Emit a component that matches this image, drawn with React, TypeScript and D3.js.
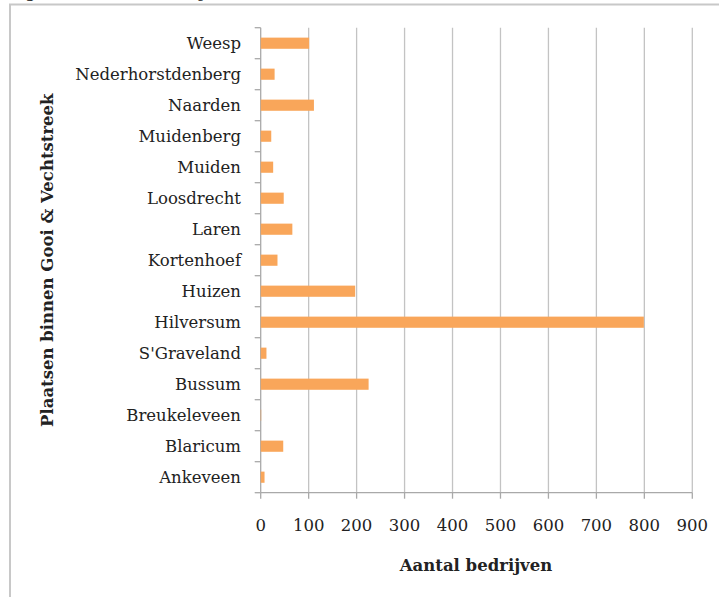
import React from "react";
import * as d3 from "d3";

const categories = [
  "Weesp",
  "Nederhorstdenberg",
  "Naarden",
  "Muidenberg",
  "Muiden",
  "Loosdrecht",
  "Laren",
  "Kortenhoef",
  "Huizen",
  "Hilversum",
  "S'Graveland",
  "Bussum",
  "Breukeleveen",
  "Blaricum",
  "Ankeveen",
];
const values = [101, 29, 111, 22, 26, 48, 66, 35, 197, 799, 12, 225, 1, 47, 8];
const xTicks = [0, 100, 200, 300, 400, 500, 600, 700, 800, 900];
const xTitle = "Aantal bedrijven";
const yTitle = "Plaatsen binnen Gooi & Vechtstreek";
const caption = "Figuur 5: Aantal bedrijven in Gooi & Vechtstreek";

export default function App() {
  const W = 719;
  const H = 597;
  const left = 260.7;
  const right = 692.3;
  const top = 27.7;
  const bottom = 492.7;
  const x = d3.scaleLinear().domain([0, 900]).range([left, right]);
  const y = d3.scaleBand().domain(categories).range([top, bottom]).paddingInner(0.64).paddingOuter(0.32);
  const band = (bottom - top) / categories.length;
  const font = "'DejaVu Serif', serif";
  const grid = "#c3c3c3";
  const axisC = "#a9a9a9";
  const fs = 16.5;
  return (
    <svg
      width={W}
      height={H}
      style={{ position: "absolute", left: 0, top: 0, background: "#fff" }}
      fontFamily={font}
    >
      <rect x={0} y={0} width={W} height={H} fill="#fff" />
      <text x={8} y={-3} fontSize={17} fill="#222" fontFamily={font}>{caption}</text>
      <line x1={9} x2={W} y1={4.5} y2={4.5} stroke="#c8c8c8" strokeWidth={2} />
      <line x1={10} x2={10} y1={4} y2={H} stroke="#c8c8c8" strokeWidth={2} />
      {xTicks.map((t) => (
        <g key={t}>
          {t > 0 && (
            <line x1={x(t)} x2={x(t)} y1={top} y2={bottom} stroke={grid} strokeWidth={1.3} />
          )}
          <line x1={x(t)} x2={x(t)} y1={bottom} y2={bottom + 6} stroke={axisC} strokeWidth={1.3} />
          <text x={x(t)} y={531} textAnchor="middle" fontSize={fs} fill="#222">
            {t}
          </text>
        </g>
      ))}
      <line x1={left} x2={right} y1={bottom} y2={bottom} stroke={axisC} strokeWidth={1.3} />
      <line x1={left} x2={left} y1={top} y2={bottom} stroke={axisC} strokeWidth={1.3} />
      {d3.range(categories.length + 1).map((i) => (
        <line
          key={i}
          x1={left - 6}
          x2={left}
          y1={top + i * band}
          y2={top + i * band}
          stroke={axisC}
          strokeWidth={1.3}
        />
      ))}
      {categories.map((c, i) => (
        <g key={c}>
          <rect
            x={x(0)}
            y={y(c)!}
            width={Math.max(0, x(values[i]) - x(0))}
            height={y.bandwidth()}
            fill="#f9a65a"
          />
          <text
            x={241}
            y={y(c)! + y.bandwidth() / 2}
            dy="0.35em"
            textAnchor="end"
            fontSize={fs}
            fill="#222"
          >
            {c}
          </text>
        </g>
      ))}
      <text x={476} y={571} textAnchor="middle" fontSize={fs} fontWeight="bold" fill="#222">
        {xTitle}
      </text>
      <text
        transform={`translate(53, ${(top + bottom) / 2}) rotate(-90)`}
        textAnchor="middle"
        fontSize={fs}
        fontWeight="bold"
        fill="#222"
      >
        {yTitle}
      </text>
    </svg>
  );
}
